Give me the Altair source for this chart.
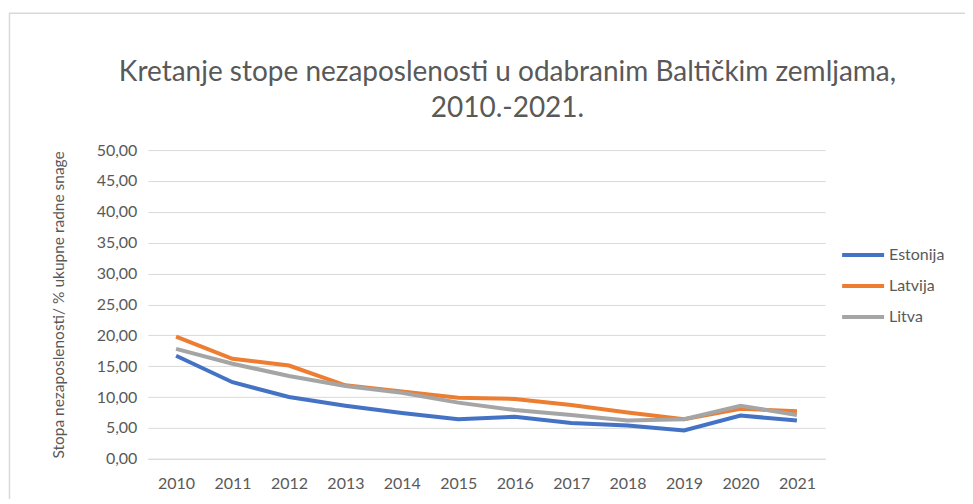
import altair as alt
import pandas as pd

years = ["2010", "2011", "2012", "2013", "2014", "2015", "2016", "2017", "2018", "2019", "2020", "2021"]
estonija = [16.7, 12.4, 10.0, 8.6, 7.4, 6.4, 6.8, 5.8, 5.4, 4.6, 7.0, 6.2]
latvija = [19.8, 16.2, 15.1, 11.9, 10.9, 9.9, 9.7, 8.7, 7.5, 6.4, 8.1, 7.7]
litva = [17.8, 15.4, 13.4, 11.8, 10.7, 9.1, 7.9, 7.1, 6.2, 6.4, 8.6, 7.1]

series = {"Estonija": estonija, "Latvija": latvija, "Litva": litva}
rows = []
for name, vals in series.items():
    for y, v in zip(years, vals):
        rows.append({"Godina": y, "Zemlja": name, "Stopa": v})
df = pd.DataFrame(rows)

FONT = "Lato"
TXT = "#595959"

lines = alt.Chart(df).mark_line(strokeWidth=4).encode(
    x=alt.X("Godina:O", title=None, sort=years,
            scale=alt.Scale(padding=0.5),
            axis=alt.Axis(labelAngle=0, labelFontSize=16, labelColor=TXT, labelFont=FONT,
                          ticks=False, domainColor="#D9D9D9", domainWidth=1, labelPadding=17)),
    y=alt.Y("Stopa:Q", title="Stopa nezaposlenosti/ % ukupne radne snage",
            scale=alt.Scale(domain=[0, 50], nice=False),
            axis=alt.Axis(values=list(range(0, 55, 5)), labelExpr="replace(format(datum.value, '.2f'), '.', ',')",
                          labelFontSize=16, labelColor=TXT, labelFont=FONT, ticks=False, domain=False,
                          gridColor="#D9D9D9", gridWidth=1, labelPadding=11,
                          titleFontSize=15.5, titleColor=TXT, titleFont=FONT, titleFontWeight="normal",
                          titlePadding=30)),
    color=alt.Color("Zemlja:N",
                    scale=alt.Scale(domain=list(series.keys()), range=["#4472C4", "#ED7D31", "#A5A5A5"]),
                    legend=alt.Legend(title=None, orient="none", legendX=693, legendY=82, padding=0,
                                      symbolType="M-1,0L1,0", symbolSize=1764, symbolStrokeWidth=4,
                                      labelFontSize=16, labelColor=TXT, labelFont=FONT,
                                      rowPadding=-11, labelOffset=3)),
)

frame = alt.Chart(pd.DataFrame({"f": [0]})).mark_rect(
    fill=None, stroke="#D9D9D9", strokeWidth=1.5
).encode(
    x=alt.value(-138.5), x2=alt.value(830), y=alt.value(-137), y2=alt.value(400)
)

chart = alt.layer(frame, lines).properties(
    width=678, height=309,
    padding={"left": 140, "top": 142, "right": 140, "bottom": 40},
    autosize=alt.AutoSizeParams(type="none"),
    title=alt.Title(["Kretanje stope nezaposlenosti u odabranim Baltičkim zemljama,", "2010.-2021."],
                    fontSize=28, font=FONT, color=TXT, fontWeight="normal", anchor="middle",
                    lineHeight=36, offset=-111, dx=21),
).configure_view(stroke=None)

chart.save("out.html", embed_options={"renderer": "svg", "actions": False})
